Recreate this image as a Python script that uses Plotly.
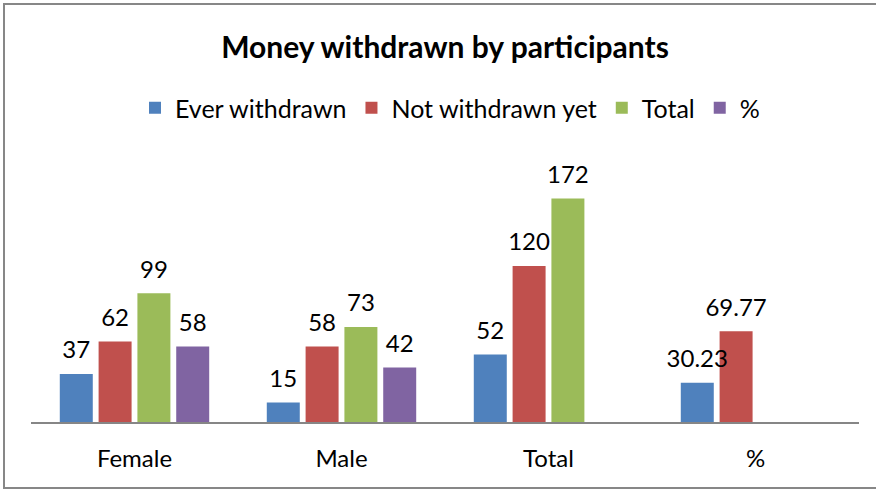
import plotly.graph_objects as go

# Chart data
categories = ["Female", "Male", "Total", "%"]
series_names = ["Ever withdrawn", "Not withdrawn yet", "Total", "%"]
ever_withdrawn = [37, 15, 52, 30.23]
not_withdrawn_yet = [62, 58, 120, 69.77]
total = [99, 73, 172, None]
percent = [58, 42, None, None]

series_values = [ever_withdrawn, not_withdrawn_yet, total, percent]
colors = ["#4F81BD", "#C0504D", "#9BBB59", "#8064A2"]

FONT = "Lato, Carlito, Calibri, sans-serif"
W, H = 876, 489
ML, MR, MT, MB = 31, 17, 162, 67
plot_w = W - ML - MR
plot_h = H - MT - MB

fig = go.Figure()

for name, vals, col in zip(series_names, series_values, colors):
    fig.add_trace(go.Bar(
        x=categories, y=vals, name=name,
        marker=dict(color=col, line=dict(width=0)),
        hoverinfo="skip",
    ))

# Value labels: invisible markers grouped like the bars, text above each point
for name, vals in zip(series_names, series_values):
    fig.add_trace(go.Scatter(
        x=categories, y=vals, mode="markers+text",
        text=[("" if v is None else f"{v:g}") for v in vals],
        textposition="top center",
        textfont=dict(family=FONT, size=24, color="#000000"),
        marker=dict(size=14, opacity=0),
        showlegend=False, hoverinfo="skip", cliponaxis=False,
    ))

# Border around the chart area (pixel positions converted to paper units)
def px_x(p):
    return (p - ML) / plot_w

def px_y(p):
    return (H - MB - p) / plot_h

fig.add_shape(type="rect", xref="paper", yref="paper",
              x0=px_x(4), x1=px_x(880), y0=px_y(4), y1=px_y(488),
              line=dict(color="#878787", width=2), fillcolor="rgba(0,0,0,0)",
              layer="below")

fig.update_layout(
    width=W, height=H,
    margin=dict(l=ML, r=MR, t=MT, b=MB),
    paper_bgcolor="white", plot_bgcolor="white",
    barmode="group", bargap=0.25, bargroupgap=0.15,
    scattermode="group", scattergap=0.25,
    font=dict(family=FONT, size=24, color="#000000"),
    title=dict(text="<b>Money withdrawn by participants</b>",
               x=px_x(445), xref="paper", xanchor="center",
               y=1 - 47 / H, yref="container", yanchor="middle",
               font=dict(family=FONT, size=30, color="#000000")),
    legend=dict(orientation="h", x=px_x(450), xanchor="center",
                y=px_y(108), yanchor="middle",
                font=dict(family=FONT, size=25, color="#000000"),
                bgcolor="rgba(0,0,0,0)", itemclick=False),
    showlegend=True,
    xaxis=dict(showline=True, linecolor="#868686", linewidth=1.5,
               showgrid=False, ticks="", ticklabelstandoff=14,
               tickfont=dict(family=FONT, size=24, color="#000000"),
               fixedrange=True),
    yaxis=dict(range=[0, 200], visible=False, showgrid=False,
               zeroline=False, fixedrange=True),
)

fig.write_html("out.html")
